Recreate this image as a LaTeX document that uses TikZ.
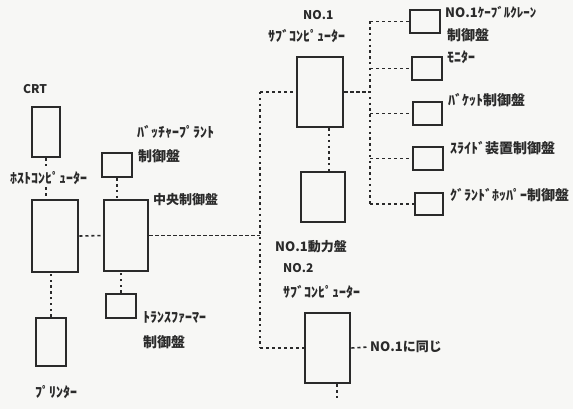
\documentclass[tikz,border=0pt]{standalone}
\usepackage{fontspec}
\newfontfamily\jp{Noto Sans CJK JP}
\definecolor{bg}{HTML}{F7F7F5}
\definecolor{ink}{HTML}{2A2A2A}
\begin{document}
\begin{tikzpicture}[x=1pt,y=-1pt,
  box/.style={draw=ink,line width=2.6pt,inner sep=0pt,fill=bg},
  lbl/.style={anchor=west,inner sep=1pt,font=\jp\bfseries\fontsize{14}{14}\selectfont,text=ink},
  lat/.style={lbl,font=\jp\bfseries\fontsize{12}{12}\selectfont},
  mix/.style={lbl,font=\jp\bfseries\fontsize{13}{13}\selectfont},
  hdash/.style={draw=ink,line width=1.6pt,dash pattern=on 3.2pt off 2.8pt},
  vdot/.style={draw=ink,line width=2.2pt,dash pattern=on 2.4pt off 3.4pt}]
\fill[bg] (0,0) rectangle (573,409);
\useasboundingbox (0,0) rectangle (573,409);
% boxes
\node[box,minimum width=28pt,minimum height=50pt] (crt) at (46,132) {};
\node[box,minimum width=46pt,minimum height=72pt] (host) at (55,236) {};
\node[box,minimum width=30pt,minimum height=48pt] (printer) at (51,342) {};
\node[box,minimum width=30pt,minimum height=24pt] (batch) at (117,165) {};
\node[box,minimum width=44pt,minimum height=71pt] (central) at (126,235.5) {};
\node[box,minimum width=30pt,minimum height=24pt] (trans) at (121,306) {};
\node[box,minimum width=46pt,minimum height=70pt] (no1) at (320,92) {};
\node[box,minimum width=44pt,minimum height=50pt] (power) at (323,197) {};
\node[box,minimum width=30pt,minimum height=23pt] (r1) at (425,21.5) {};
\node[box,minimum width=30pt,minimum height=23pt] (r2) at (427,68.5) {};
\node[box,minimum width=29pt,minimum height=23pt] (r3) at (427.5,113.5) {};
\node[box,minimum width=30pt,minimum height=23pt] (r4) at (428,158.5) {};
\node[box,minimum width=28pt,minimum height=22pt] (r5) at (429,204) {};
\node[box,minimum width=45pt,minimum height=70pt] (no2) at (327.5,348) {};
% connectors
\draw[vdot] (crt.south) -- (crt.south |- host.north);
% labels
\node[lat] (tcrt) at (22,89) {CRT};
\node[lbl,fill=bg] (thost) at (9,178) {ﾎｽﾄｺﾝﾋﾟｭｰﾀｰ};
\node[lbl] (tbatch) at (136,132) {ﾊﾞｯﾁｬｰﾌﾟﾗﾝﾄ};
\node[lbl] (tbatch2) at (137,156) {制御盤};
\node[mix] (tcentral) at (152,200) {中央制御盤};
\node[lbl] (ttrans) at (142,318) {ﾄﾗﾝｽﾌｧｰﾏｰ};
\node[lbl] (ttrans2) at (142,342) {制御盤};
\node[lbl] (tprinter) at (34,392) {ﾌﾟﾘﾝﾀｰ};
\node[lat] (tno1) at (302,15) {NO.1};
\node[lbl] (tsub1) at (267,36) {ｻﾌﾞｺﾝﾋﾟｭｰﾀｰ};
\node[mix] (tr1) at (444,12) {NO.1ｹｰﾌﾞﾙｸﾚｰﾝ};
\node[lbl] (tr1b) at (446,35) {制御盤};
\node[lbl] (tr2) at (446,57) {ﾓﾆﾀｰ};
\node[lbl] (tr3) at (447,100) {ﾊﾞｹｯﾄ制御盤};
\node[lbl] (tr4) at (449,148) {ｽﾗｲﾄﾞ装置制御盤};
\node[lbl] (tr5) at (449,195) {ｸﾞﾗﾝﾄﾞﾎｯﾊﾟｰ制御盤};
\node[mix] (tpower) at (274,247) {NO.1動力盤};
\node[lat] (tno2) at (282,268) {NO.2};
\node[lbl] (tsub2) at (282,292) {ｻﾌﾞｺﾝﾋﾟｭｰﾀｰ};
\node[mix] (tsame) at (369,347) {NO.1に同じ};
% more connectors
\draw[hdash] (host.east) -- (central.west);
\draw[vdot] (printer.north) -- (printer.north |- host.south);
\draw[vdot] (batch.south) -- (batch.south |- central.north);
\draw[vdot] (trans.north) -- (trans.north |- central.south);
\coordinate (ja) at (260,92);
\coordinate (jb) at (260,348);
\coordinate (jc) at (260,235.5);
\draw[hdash] (central.east) -- (jc);
\draw[vdot] (ja) -- (jb);
\draw[hdash] (ja) -- (no1.west);
\draw[hdash] (jb) -- (no2.west);
\coordinate (ra) at (370,21.5);
\coordinate (rb) at (370,204);
\draw[vdot] (ra) -- (rb);
\draw[hdash] (no1.east) -- (no1.east -| ra);
\foreach \r in {r1,r2,r3,r4,r5} {\draw[hdash] (\r.west -| ra) -- (\r.west);}
\draw[vdot] ([xshift=9pt]no1.south) -- ([xshift=9pt]no1.south |- power.north);
\draw[hdash] (no2.east) -- (tsame.west);
\coordinate (tail) at (337,398);
\draw[vdot] ([xshift=9.5pt]no2.south) -- (tail);
\end{tikzpicture}
\end{document}
